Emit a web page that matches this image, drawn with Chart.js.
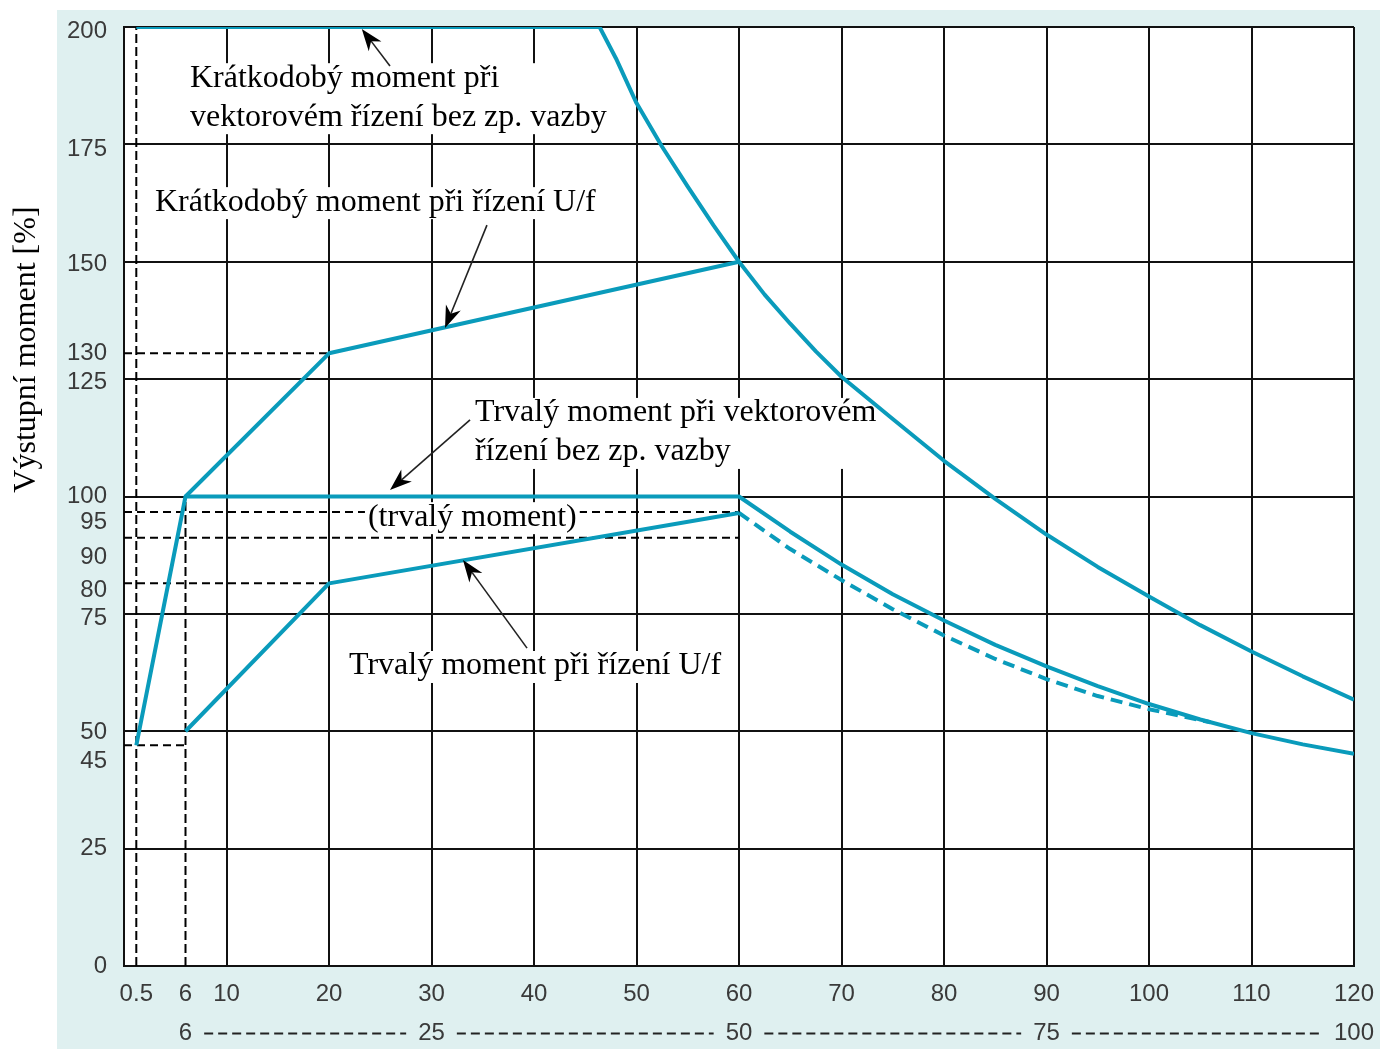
<!DOCTYPE html>
<html>
<head>
<meta charset="utf-8">
<script src="https://cdn.jsdelivr.net/npm/chart.js@4.4.0/dist/chart.umd.min.js"></script>
<style>
html,body{margin:0;padding:0;background:#fff;}
canvas{display:block;}
</style>
</head>
<body>
<canvas id="c" width="1380" height="1049"></canvas>
<script>
// ---------- tick labels ----------
const xTickValues = [1.2, 6, 10, 20, 30, 40, 50, 60, 70, 80, 90, 100, 110, 120];
const xTickLabels = ['0.5', '6', '10', '20', '30', '40', '50', '60', '70', '80', '90', '100', '110', '120'];
const xGridValues = [10, 20, 30, 40, 50, 60, 70, 80, 90, 100, 110, 120];
const x2TickValues = [6, 30, 60, 90, 120];
const x2TickLabels = ['6', '25', '50', '75', '100'];
const yGridValues = [0, 25, 50, 75, 100, 125, 150, 175, 200];
const yTickValues = [0, 25, 43.5, 49.8, 74.1, 80.1, 87.1, 94.4, 100, 124.3, 130.5, 149.5, 174, 199];
const yTickLabels = ['0', '25', '45', '50', '75', '80', '90', '95', '100', '125', '130', '150', '175', '200'];

// ---------- series ----------
// Krátkodobý moment při vektorovém řízení bez zp. vazby
const shortVecX = [1.2, 46.4, 48, 50, 52.5, 55, 57.5, 60, 62.5, 65, 67.5, 70, 75, 80, 85, 90, 95, 100, 105, 110, 115, 120];
const shortVecY = [200, 200, 193.3, 183.8, 174.5, 166, 157.8, 150, 143, 136.8, 130.9, 125.5, 116.5, 107.6, 99.5, 91.9, 85, 78.7, 72.6, 67, 61.7, 56.7];
// Krátkodobý moment při řízení U/f
const shortUfX = [6, 20, 60];
const shortUfY = [100, 130.5, 150];
// Trvalý moment při vektorovém řízení bez zp. vazby
const contVecX = [1.2, 6, 60, 65, 70, 75, 80, 85, 90, 95, 100, 105, 110, 115, 120];
const contVecY = [47, 100, 100, 92.5, 85.5, 79.2, 73.6, 68.4, 63.8, 59.6, 55.8, 52.5, 49.6, 47.2, 45.2];
// Trvalý moment při řízení U/f
const contUfX = [6, 20, 60];
const contUfY = [50, 81.5, 96.5];
// Trvalý moment při řízení U/f – pokračování (čárkovaně)
const contUfExtX = [60, 65, 70, 75, 80, 85, 90, 95, 100, 106];
const contUfExtY = [96.5, 88.8, 82.2, 76, 70.4, 65.4, 61.1, 57.5, 54.7, 51.9];

// ---------- reference (dashed black) lines ----------
const refHLevels = [130.5, 96.7, 91.2, 81.5, 47];
const refHEnds   = [20, 60, 60, 20, 6];
const refVPositions = [1.2, 6];
const refVTops      = [200, 100];

const toPts = (xs, ys) => xs.map((x, i) => ({x: x, y: ys[i]}));

const BLUE = '#0a9bbb';
const SANS = "'Liberation Sans', Arial, sans-serif";
const SERIF = "'Liberation Serif', 'Times New Roman', serif";

const curveStyle = {showLine: true, borderColor: BLUE, borderWidth: 4, pointRadius: 0, tension: 0,
  borderJoinStyle: 'round', borderCapStyle: 'butt', kind: 'curve', order: 1};
const refStyle = {showLine: true, borderColor: '#000', borderWidth: 2, pointRadius: 0, tension: 0,
  borderDash: [8, 5], kind: 'ref', order: 2};

const datasets = [
  Object.assign({label: 'Krátkodobý moment při vektorovém řízení bez zp. vazby', data: toPts(shortVecX, shortVecY)}, curveStyle),
  Object.assign({label: 'Krátkodobý moment při řízení U/f', data: toPts(shortUfX, shortUfY)}, curveStyle),
  Object.assign({label: 'Trvalý moment při vektorovém řízení bez zp. vazby', data: toPts(contVecX, contVecY)}, curveStyle),
  Object.assign({label: 'Trvalý moment při řízení U/f', data: toPts(contUfX, contUfY)}, curveStyle),
  Object.assign({label: 'Trvalý moment při řízení U/f (pokračování)', data: toPts(contUfExtX, contUfExtY)}, curveStyle, {borderDash: [12, 7]}),
];
refHLevels.forEach((lv, i) => datasets.push(Object.assign({label: 'ref-h-' + i, data: [{x: 0, y: lv}, {x: refHEnds[i], y: lv}]}, refStyle)));
refVPositions.forEach((xv, i) => datasets.push(Object.assign({label: 'ref-v-' + i, data: [{x: xv, y: 0}, {x: xv, y: refVTops[i]}]}, refStyle, {borderDash: [9, 4]})));

// ---------- annotations (text + arrows) ----------
const annotationTexts = [
  {lines: ['Krátkodobý moment při', 'vektorovém řízení bez zp. vazby'], x: 6.44, y: 189.1},
  {lines: ['Krátkodobý moment při řízení U/f'], x: 3.02, y: 162.7},
  {lines: ['Trvalý moment při vektorovém', 'řízení bez zp. vazby'], x: 34.24, y: 117.8},
  {lines: ['(trvalý moment)'], x: 23.8, y: 95.6},
  {lines: ['Trvalý moment při řízení U/f'], x: 21.95, y: 63.9},
];
const annotationArrows = [
  {from: [25.95, 191.7], to: [23.2, 199.6]},
  {from: [35.41, 157.8], to: [31.32, 135.9]},
  {from: [33.76, 116.3], to: [25.95, 101.4]},
  {from: [39.32, 67.7], to: [33.07, 86.5]},
];
const yTitle = 'Výstupní moment [%]';

const LINE_H = 39;
const TEXT_FONT = '32px ' + SERIF;

function drawTextBoxes(chart) {
  const {ctx, scales: {x, y}} = chart;
  ctx.save();
  ctx.font = TEXT_FONT;
  annotationTexts.forEach(a => {
    const px = x.getPixelForValue(a.x), py = y.getPixelForValue(a.y);
    const w = Math.max(...a.lines.map(l => ctx.measureText(l).width));
    ctx.fillStyle = '#fff';
    ctx.fillRect(px - 3, py - 15, w + 6, (a.lines.length - 1) * LINE_H + 32);
  });
  ctx.fillStyle = '#000';
  ctx.textAlign = 'left';
  ctx.textBaseline = 'middle';
  annotationTexts.forEach(a => {
    const px = x.getPixelForValue(a.x), py = y.getPixelForValue(a.y);
    a.lines.forEach((l, i) => ctx.fillText(l, px, py + i * LINE_H));
  });
  ctx.restore();
}

function drawArrow(ctx, x1, y1, x2, y2) {
  const ang = Math.atan2(y2 - y1, x2 - x1);
  const c = Math.cos(ang), s = Math.sin(ang);
  const hl = 22, hw = 8;
  ctx.strokeStyle = '#222';
  ctx.lineWidth = 1.6;
  ctx.beginPath();
  ctx.moveTo(x1, y1);
  ctx.lineTo(x2 - hl * 0.7 * c, y2 - hl * 0.7 * s);
  ctx.stroke();
  ctx.fillStyle = '#000';
  ctx.beginPath();
  ctx.moveTo(x2, y2);
  ctx.lineTo(x2 - hl * c + hw * s, y2 - hl * s - hw * c);
  ctx.lineTo(x2 - hl * 0.7 * c, y2 - hl * 0.7 * s);
  ctx.lineTo(x2 - hl * c - hw * s, y2 - hl * s + hw * c);
  ctx.closePath();
  ctx.fill();
}

const decoPlugin = {
  id: 'deco',
  beforeDraw(chart) {
    const {ctx, chartArea: a} = chart;
    ctx.save();
    ctx.fillStyle = '#fff';
    ctx.fillRect(0, 0, chart.width, chart.height);
    ctx.fillStyle = '#dff0f0';
    ctx.fillRect(57, 10, chart.width - 57, chart.height - 10);
    ctx.fillStyle = '#fff';
    ctx.fillRect(a.left, a.top, a.right - a.left, a.bottom - a.top);
    ctx.restore();
  },
  beforeDatasetsDraw(chart) { chart.$boxesDone = false; },
  beforeDatasetDraw(chart, args) {
    const ds = chart.data.datasets[args.index];
    if (ds.kind === 'curve' && !chart.$boxesDone) {
      drawTextBoxes(chart);
      chart.$boxesDone = true;
    }
  },
  afterDatasetsDraw(chart) {
    const {ctx, scales: {x, y}} = chart;
    ctx.save();
    annotationArrows.forEach(ar => drawArrow(ctx,
      x.getPixelForValue(ar.from[0]), y.getPixelForValue(ar.from[1]),
      x.getPixelForValue(ar.to[0]), y.getPixelForValue(ar.to[1])));
    ctx.restore();
  },
  afterDraw(chart) {
    const {ctx, scales: {x2, y}} = chart;
    ctx.save();
    // y axis title
    ctx.translate(35, y.getPixelForValue(131.3));
    ctx.rotate(-Math.PI / 2);
    ctx.font = TEXT_FONT;
    ctx.fillStyle = '#000';
    ctx.textAlign = 'center';
    ctx.textBaseline = 'alphabetic';
    ctx.fillText(yTitle, 0, 0);
    ctx.restore();
    // dashes between second-row labels
    ctx.save();
    ctx.font = '24px ' + SANS;
    const yy = x2.top + 9 + 14.4;
    ctx.strokeStyle = '#222';
    ctx.lineWidth = 2;
    ctx.setLineDash([9, 5]);
    for (let i = 0; i < x2TickValues.length - 1; i++) {
      const p1 = x2.getPixelForValue(x2TickValues[i]) + ctx.measureText(x2TickLabels[i]).width / 2 + 12;
      const p2 = x2.getPixelForValue(x2TickValues[i + 1]) - ctx.measureText(x2TickLabels[i + 1]).width / 2 - 12;
      ctx.beginPath();
      ctx.moveTo(p1, yy);
      ctx.lineTo(p2, yy);
      ctx.stroke();
    }
    ctx.restore();
  }
};

const tickFont = {family: SANS, size: 24};
const TICK_COLOR = '#3a3a3a';
const zeroPad = s => { s.paddingLeft = 0; s.paddingRight = 0; s.paddingTop = 0; s.paddingBottom = 0; };

new Chart(document.getElementById('c'), {
  type: 'scatter',
  data: {datasets: datasets},
  plugins: [decoPlugin],
  options: {
    responsive: false,
    devicePixelRatio: 1,
    animation: false,
    layout: {padding: {left: 0, right: 26, top: 27, bottom: 0}},
    plugins: {legend: {display: false}, tooltip: {enabled: false}},
    scales: {
      x: {
        type: 'linear', position: 'bottom', min: 0, max: 120,
        afterBuildTicks: s => { s.ticks = xTickValues.map(v => ({value: v})); },
        afterFit: s => { s.height = 44; zeroPad(s); },
        ticks: {autoSkip: false, maxRotation: 0, minRotation: 0, padding: 14, font: tickFont, color: TICK_COLOR,
          callback: (v, i) => xTickLabels[i]},
        grid: {drawTicks: false, lineWidth: 2,
          color: c => (c.tick && xGridValues.includes(c.tick.value)) ? '#111' : 'rgba(0,0,0,0)'},
        border: {display: true, color: '#111', width: 2}
      },
      x2: {
        type: 'linear', position: 'bottom', min: 0, max: 120,
        afterBuildTicks: s => { s.ticks = x2TickValues.map(v => ({value: v})); },
        afterFit: s => { s.height = 39; zeroPad(s); },
        ticks: {autoSkip: false, maxRotation: 0, minRotation: 0, padding: 9, font: tickFont, color: TICK_COLOR,
          callback: (v, i) => x2TickLabels[i]},
        grid: {display: false, drawTicks: false},
        border: {display: false}
      },
      y: {
        type: 'linear', position: 'left', min: 0, max: 200,
        afterBuildTicks: s => { s.ticks = yTickValues.concat(yGridValues.filter(g => !yTickValues.includes(g))).map(v => ({value: v})); },
        afterFit: s => { s.width = 124; zeroPad(s); },
        ticks: {autoSkip: false, padding: 17, font: tickFont, color: TICK_COLOR,
          callback: (v, i) => { const k = yTickValues.indexOf(v); return k >= 0 ? yTickLabels[k] : ''; }},
        grid: {drawTicks: false, lineWidth: 2,
          color: c => (c.tick && yGridValues.includes(c.tick.value)) ? '#111' : 'rgba(0,0,0,0)'},
        border: {display: true, color: '#111', width: 2}
      }
    }
  }
});
</script>
</body>
</html>
